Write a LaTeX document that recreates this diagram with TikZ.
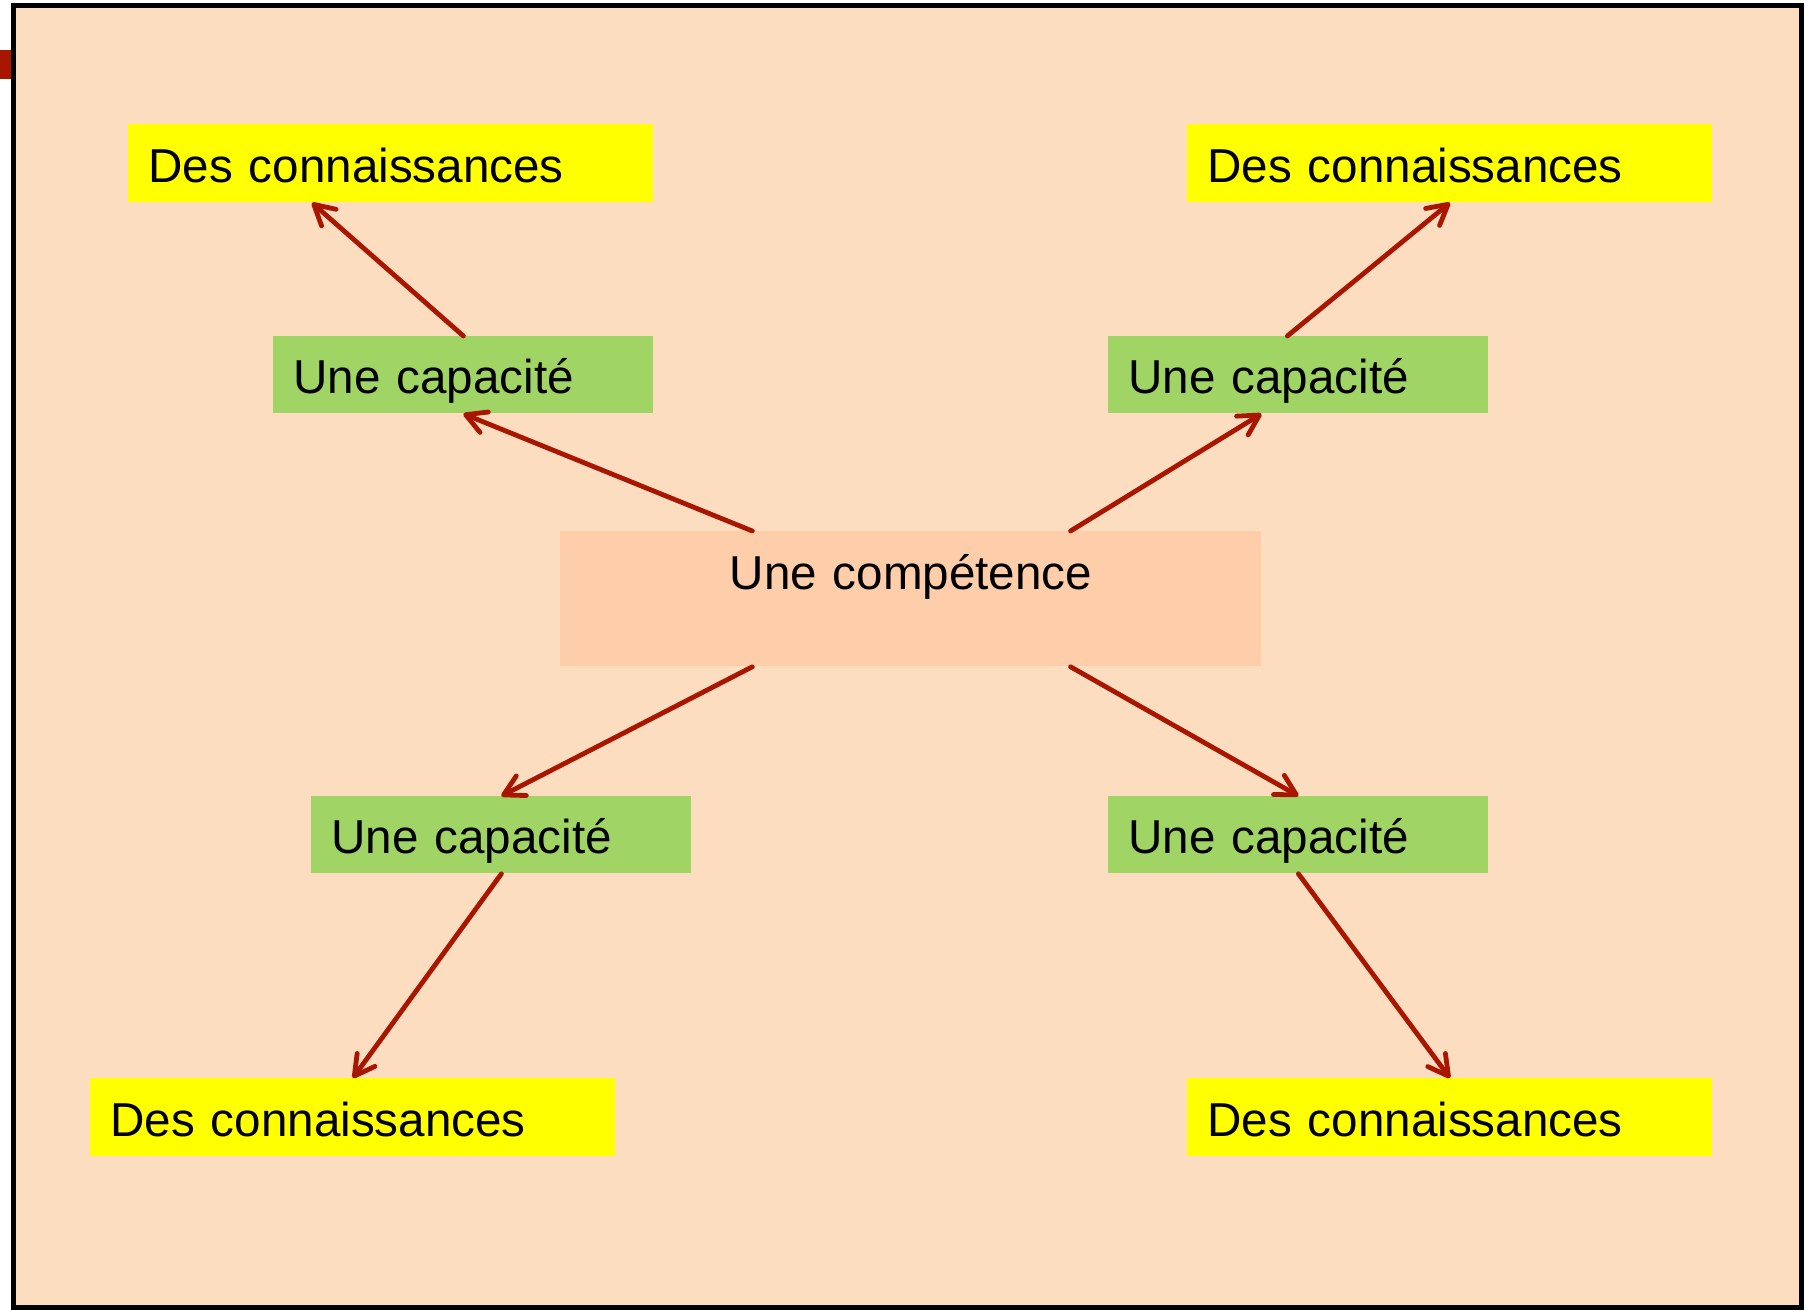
\documentclass[tikz,border=0pt]{standalone}
\usepackage{fontspec}
\setmainfont{Liberation Sans}
\usetikzlibrary{arrows.meta,calc}
\definecolor{peach}{RGB}{252,221,192}
\definecolor{centrefill}{RGB}{254,205,170}
\definecolor{capgreen}{RGB}{160,213,101}
\definecolor{conyellow}{RGB}{255,255,0}
\definecolor{arrowred}{RGB}{168,22,0}
\tikzset{
  boxfont/.style={font=\fontsize{23.8}{28}\selectfont},
  connbox/.style={boxfont, fill=conyellow, anchor=north west,
    text width=242.5pt, inner xsep=10pt, inner ysep=0pt, align=left,
    text height=29pt, text depth=10pt},
  capbox/.style={boxfont, fill=capgreen, anchor=north west,
    text width=170pt, inner xsep=10pt, inner ysep=0pt, align=left,
    text height=28.5pt, text depth=10pt},
  compbox/.style={boxfont, fill=centrefill, anchor=north west, text width=350.5pt,
    inner xsep=0pt, inner ysep=0pt, align=center, text height=29pt, text depth=38.5pt},
  link/.style={draw=arrowred, line width=2.4pt, line cap=round,
    -{Straight Barb[round,length=10pt,width=11pt]}}
}
\begin{document}
\begin{tikzpicture}[x=0.5pt,y=-0.5pt]
\useasboundingbox (0,0) rectangle (1806,1310);
\fill[white] (0,0) rectangle (1806,1310);
\fill[arrowred] (0,50) rectangle (14,79);
\draw[line width=2.5pt, fill=peach] (13.5,5.5) rectangle (1801.5,1307.5);

\node[compbox] (cen) at (560,531) {Une compétence};

\node[capbox] (g1) at (273,336) {Une capacité};
\node[capbox] (g2) at (1108,336) {Une capacité};
\node[capbox] (g3) at (311,796) {Une capacité};
\node[capbox] (g4) at (1108,796) {Une capacité};

\node[connbox] (y1) at (128,124) {Des connaissances};
\node[connbox] (y2) at (1187,124) {Des connaissances};
\node[connbox] (y3) at (90,1078) {Des connaissances};
\node[connbox] (y4) at (1187,1078) {Des connaissances};

\draw[link] ($(cen.north west)!0.274!(cen.north east)$) -- (g1.south);
\draw[link] (g1.north) -- ($(y1.south west)!0.35!(y1.south east)$);
\draw[link] ($(cen.north west)!0.7275!(cen.north east)$) -- ($(g2.south west)!0.403!(g2.south east)$);
\draw[link] ($(g2.north west)!0.471!(g2.north east)$) -- (y2.south);
\draw[link] ($(cen.south west)!0.274!(cen.south east)$) -- (g3.north);
\draw[link] (g3.south) -- (y3.north);
\draw[link] ($(cen.south west)!0.7275!(cen.south east)$) -- (g4.north);
\draw[link] (g4.south) -- (y4.north);
\end{tikzpicture}
\end{document}
